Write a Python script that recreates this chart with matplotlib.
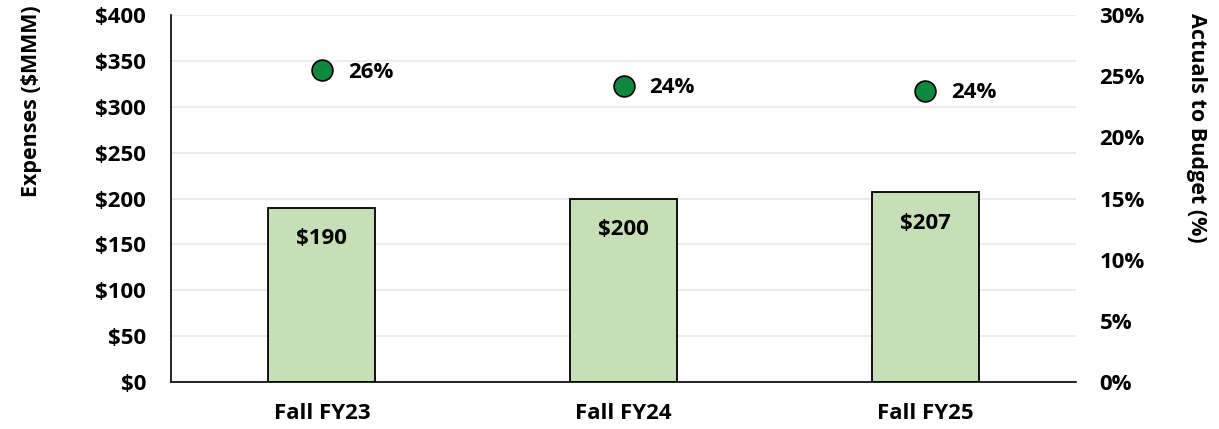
import matplotlib
matplotlib.use("Agg")
import matplotlib.pyplot as plt
import numpy as np

categories = ["Fall FY23", "Fall FY24", "Fall FY25"]
expenses = [190, 200, 207]
expense_labels = ["$190", "$200", "$207"]
pct = [25.5, 24.2, 23.8]
pct_labels = ["26%", "24%", "24%"]
left_ticks = [0, 50, 100, 150, 200, 250, 300, 350, 400]
right_ticks = [0, 5, 10, 15, 20, 25, 30]

plt.rcParams['font.family'] = ['Open Sans', 'DejaVu Sans']
plt.rcParams['font.weight'] = 'bold'
FS = 16
LFS = 15.5

fig = plt.figure(figsize=(12.19, 4.29), dpi=100)
ax = fig.add_axes([171/1219, 1-382/429, (1076-171)/1219, (382-15)/429])
x = np.arange(len(categories))
ax.set_axisbelow(True)
ax.yaxis.grid(True, color='#ebebeb', linewidth=1.5)
ax.bar(x, expenses, width=0.355, color='#c5e0b4', edgecolor='black', linewidth=1.3, zorder=2)
for xi, v, lab in zip(x, expenses, expense_labels):
    ax.annotate(lab, (xi, v), xytext=(0, -31), textcoords='offset pixels',
                ha='center', va='center', fontsize=FS, fontweight='bold', zorder=3)
ax.set_xlim(-0.5, 2.5)
ax.set_ylim(0, 400)
ax.set_yticks(left_ticks)
ax.set_yticklabels([f"${t}" for t in left_ticks], fontsize=FS, fontweight='bold')
ax.set_xticks(x)
ax.set_xticklabels(categories, fontsize=FS, fontweight='bold')
ax.tick_params(axis='y', length=0, pad=18)
ax.tick_params(axis='x', length=0, pad=15)
for s in ['top', 'right']:
    ax.spines[s].set_visible(False)
ax.spines['left'].set_linewidth(1.2)
ax.spines['bottom'].set_linewidth(1.2)
fig.text(32/1219, 1-101/429, "Expenses ($MMM)", rotation=90, ha='center', va='center',
         fontsize=LFS, fontweight='bold')

ax2 = ax.twinx()
ax2.set_ylim(0, 30)
ax2.set_yticks(right_ticks)
ax2.set_yticklabels([f"{t}%" for t in right_ticks], fontsize=FS, fontweight='bold')
ax2.tick_params(axis='y', length=0, pad=17)
for s in ['top', 'right', 'left', 'bottom']:
    ax2.spines[s].set_visible(False)
ax2.plot(x, pct, linestyle='none', marker='o', markersize=15, markerfacecolor='#0a8a3a',
         markeredgecolor='black', markeredgewidth=1.2, zorder=4)
for xi, v, lab in zip(x, pct, pct_labels):
    ax2.annotate(lab, (xi, v), xytext=(26, -2), textcoords='offset pixels',
                 ha='left', va='center', fontsize=FS, fontweight='bold')
fig.text(1197/1219, 1-128/429, "Actuals to Budget (%)", rotation=270, ha='center', va='center',
         fontsize=LFS, fontweight='bold')

fig.savefig("out.png", dpi=100)
